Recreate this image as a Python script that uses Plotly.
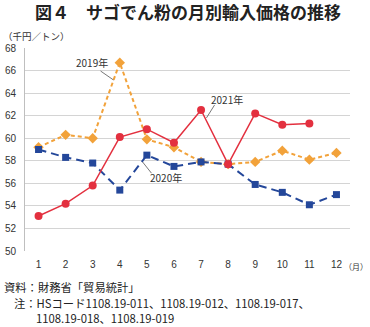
import plotly.graph_objects as go

months = list(range(1, 13))
month_labels = [str(m) for m in months]
y_ticks = list(range(50, 69, 2))

price_2019 = [59.2, 60.3, 60.0, 66.7, 59.9, 59.2, 57.9, 57.7, 57.9, 58.9, 58.1, 58.7]
price_2020 = [59.0, 58.3, 57.8, 55.4, 58.5, 57.5, 57.9, 57.7, 55.9, 55.2, 54.1, 55.0]
price_2021 = [53.1, 54.2, 55.8, 60.1, 60.8, 59.6, 62.5, 57.7, 62.2, 61.2, 61.3, None]

JP = "Noto Sans CJK JP"
NUM = "Liberation Sans, Arial, sans-serif"
ORANGE = "#F2A23A"
BLUE = "#24479A"
RED = "#E3303F"

fig = go.Figure()
fig.add_trace(go.Scatter(
    x=months, y=price_2019, mode="lines+markers", name="2019年",
    line=dict(color=ORANGE, width=2, dash="4px,3px"),
    marker=dict(symbol="diamond", size=8, color=ORANGE),
))
fig.add_trace(go.Scatter(
    x=months, y=price_2020, mode="lines+markers", name="2020年",
    line=dict(color=BLUE, width=2, dash="8px,5px"),
    marker=dict(symbol="square", size=7, color=BLUE),
))
fig.add_trace(go.Scatter(
    x=months, y=price_2021, mode="lines+markers", name="2021年",
    line=dict(color=RED, width=1.5),
    marker=dict(symbol="circle", size=8, color=RED),
))

# series labels with leader lines
labels = [
    ("2019年", 2.99, 66.7, (3.29, 65.96), (3.77, 65.16)),
    ("2021年", 7.95, 63.4, (7.5, 62.95), (7.2, 61.8)),
    ("2020年", 5.7, 56.5, (5.17, 56.9), (4.84, 57.9)),
]
for text, tx, ty, p0, p1 in labels:
    fig.add_annotation(x=tx, y=ty, text=text, showarrow=False,
                       font=dict(family=JP, size=10, color="#333333"))
    fig.add_shape(type="line", x0=p0[0], y0=p0[1], x1=p1[0], y1=p1[1],
                  line=dict(color="#555555", width=0.8))

fig.update_layout(
    width=370, height=327,
    margin=dict(l=25, r=20, t=48, b=76, autoexpand=False),
    paper_bgcolor="white", plot_bgcolor="white",
    showlegend=False,
    font=dict(family=NUM, size=10, color="#333333"),
    xaxis=dict(
        range=[0.5, 12.5], tickvals=months, ticktext=month_labels,
        showgrid=False, zeroline=False, showline=False, ticks="",
        ticklabelstandoff=6, automargin=False,
        tickfont=dict(family=NUM, size=10, color="#333333"),
        fixedrange=True,
    ),
    yaxis=dict(
        range=[50, 68], tickvals=y_ticks,
        showgrid=True, gridcolor="#D4D4D4", gridwidth=1,
        zeroline=False, showline=True, linecolor="#BFBFBF", linewidth=1,
        ticks="", ticklabelstandoff=6, automargin=False,
        tickfont=dict(family=NUM, size=10, color="#333333"),
        fixedrange=True,
    ),
)

fig.add_annotation(xref="paper", yref="paper", x=0.5, xanchor="center",
                   y=1.0, yanchor="bottom", yshift=22,
                   text="<b>図４　サゴでん粉の月別輸入価格の推移</b>", showarrow=False,
                   font=dict(family=JP, size=17, color="#222222"))
fig.add_annotation(xref="paper", yref="paper", x=0, xanchor="left", xshift=-24,
                   y=1.0, yanchor="bottom", yshift=3,
                   text="（千円／トン）", showarrow=False,
                   font=dict(family=JP, size=9.5, color="#333333"))
fig.add_annotation(xref="paper", yref="paper", x=1.0, xanchor="right", xshift=19.5,
                   y=0.0, yanchor="top", yshift=-8,
                   text="（月）", showarrow=False,
                   font=dict(family=JP, size=8, color="#333333"))

footer = [
    (-23, -36, "資料：財務省「貿易統計」"),
    (-13, -52, "注：HSコード1108.19-011、1108.19-012、1108.19-017、"),
    (9, -67, "1108.19-018、1108.19-019"),
]
for fx, shift, text in footer:
    fig.add_annotation(xref="paper", yref="paper", x=0, xanchor="left", xshift=fx,
                       y=0.0, yanchor="middle", yshift=shift,
                       text=text, showarrow=False,
                       font=dict(family=JP, size=11.3, color="#222222"))

fig.write_html("out.html")
